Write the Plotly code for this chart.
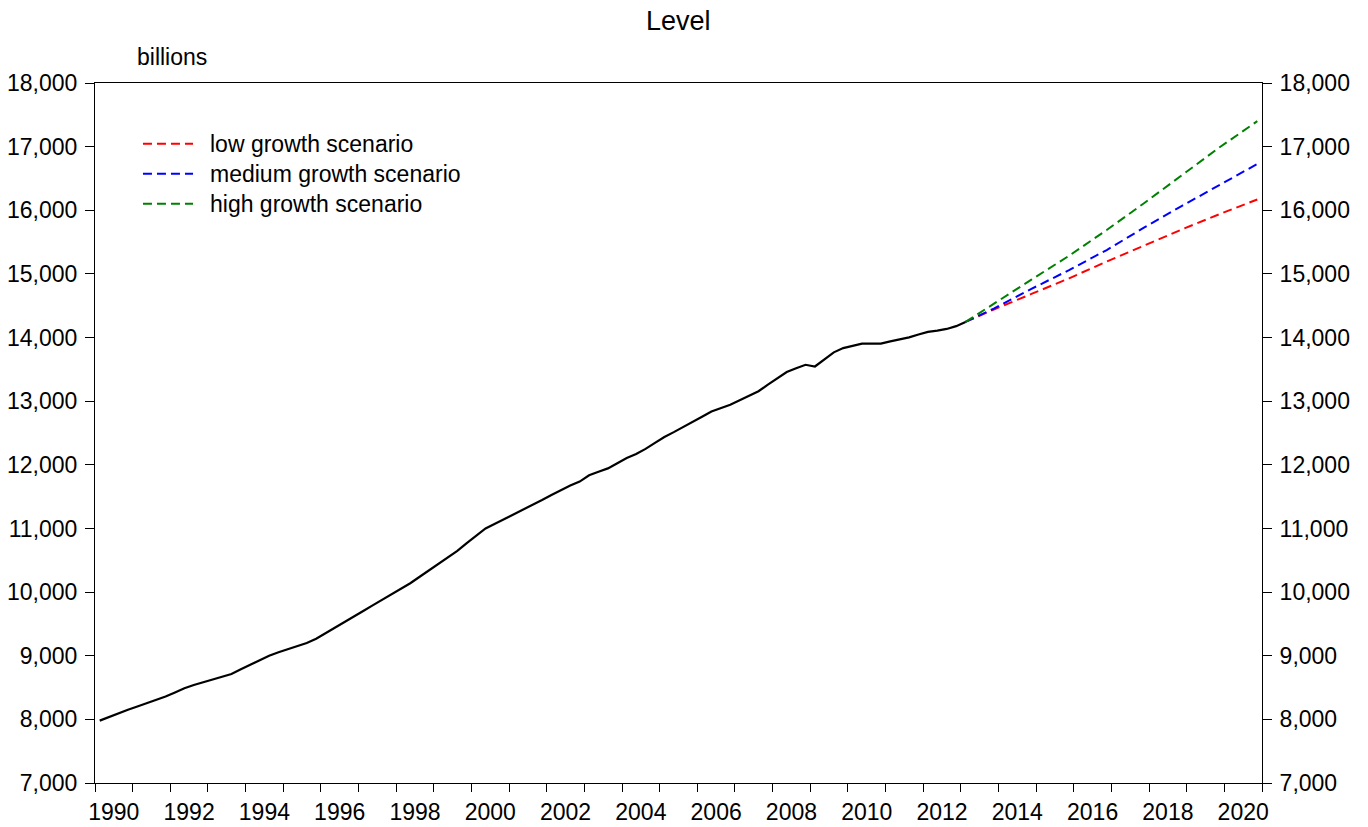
import plotly.graph_objects as go

# actual series, quarterly 1990Q1 .. 2013Q1 (billions)
actual_start_year = 1990
actual = [7980, 8040, 8100, 8151, 8201, 8251, 8300, 8358, 8423, 8488,
          8540, 8583, 8621, 8665, 8713, 8789, 8862, 8936, 9000, 9054,
          9100, 9150, 9200, 9267, 9352, 9446, 9533, 9618, 9703, 9791,
          9880, 9964, 10048, 10139, 10241, 10342, 10443, 10544, 10647, 10769,
          10888, 11001, 11074, 11146, 11220, 11293, 11368, 11447, 11526, 11603,
          11674, 11737, 11835, 11890, 11944, 12025, 12106, 12169, 12250, 12345,
          12438, 12514, 12590, 12669, 12755, 12837, 12892, 12945, 13014, 13082,
          13156, 13260, 13360, 13457, 13516, 13572, 13545, 13655, 13767, 13834,
          13873, 13904, 13904, 13904, 13940, 13970, 14003, 14047, 14090, 14110,
          14135, 14179, 14245]

# scenario paths
forecast_periods = ["2013Q1", "2013Q4", "2014Q4", "2015Q4", "2016Q4",
                    "2017Q4", "2018Q4", "2019Q4", "2020Q4"]
low_growth = [14245, 14440, 14685, 14930, 15195, 15450, 15700, 15940, 16170]
medium_growth = [14245, 14455, 14765, 15060, 15375, 15730, 16070, 16395, 16727]
high_growth = [14245, 14535, 14910, 15285, 15690, 16115, 16550, 16990, 17400]

y_ticks = list(range(7000, 18001, 1000))
year_ticks = list(range(1990, 2022))
label_years = list(range(1990, 2021, 2))


def quarter_pos(label):
    # centre of the quarter on a decimal-year axis
    year, q = label.split("Q")
    return int(year) + (int(q) - 0.5) / 4


actual_x = [quarter_pos(f"{actual_start_year + i // 4}Q{i % 4 + 1}") for i in range(len(actual))]
fc_x = [quarter_pos(p) for p in forecast_periods]

FONT = "Arial, Liberation Sans, sans-serif"
DASH = "9px,5px"

fig = go.Figure()

scenarios = [
    ("low growth scenario", low_growth, "#ff0000"),
    ("medium growth scenario", medium_growth, "#0000ff"),
    ("high growth scenario", high_growth, "#008000"),
]
for name, vals, col in scenarios:
    fig.add_trace(go.Scatter(x=fc_x, y=vals, mode="lines", name=name,
                             line=dict(color=col, width=2, dash=DASH)))

fig.add_trace(go.Scatter(x=actual_x, y=actual, mode="lines", name="actual",
                         line=dict(color="black", width=2.2)))

# invisible copy so the right-hand axis is drawn
fig.add_trace(go.Scatter(x=actual_x, y=actual, mode="lines", yaxis="y2",
                         line=dict(color="rgba(0,0,0,0)"), hoverinfo="skip"))

# hand-made legend (long line samples, like the original)
legend_rows = [0.9133, 0.8704, 0.8276]
for (name, vals, col), yy in zip(scenarios, legend_rows):
    fig.add_shape(type="line", xref="paper", yref="paper",
                  x0=0.0411, x1=0.0840, y0=yy, y1=yy,
                  line=dict(color=col, width=2, dash=DASH))
    fig.add_annotation(x=0.0968, y=yy, xref="paper", yref="paper",
                       text=name, showarrow=False, xanchor="left",
                       yanchor="middle", font=dict(size=23, color="black"))

fig.add_annotation(x=0.5, y=1.089, xref="paper", yref="paper", text="Level",
                   showarrow=False, xanchor="center", yanchor="middle",
                   font=dict(size=27, color="black"))
fig.add_annotation(x=0.0343, y=1.0376, xref="paper", yref="paper", text="billions",
                   showarrow=False, xanchor="left", yanchor="middle",
                   font=dict(size=23, color="black"))

yaxis_common = dict(
    range=[7000, 18000], tickvals=y_ticks, tickformat=",d",
    ticks="outside", ticklen=9, tickcolor="black", tickwidth=1,
    ticklabelstandoff=3,
    showline=True, linecolor="black", linewidth=1,
    showgrid=False, zeroline=False, automargin=False,
    tickfont=dict(size=23, color="black"),
)

fig.update_layout(
    width=1368, height=827,
    margin=dict(l=95, r=106, t=83, b=44),
    paper_bgcolor="white", plot_bgcolor="white",
    font=dict(family=FONT, color="black"),
    showlegend=False,
    xaxis=dict(
        range=[1990, 2021],
        tickvals=[y + 0.5 for y in label_years],
        ticktext=[str(y) for y in label_years],
        ticks="outside", ticklen=8, tickcolor="rgba(0,0,0,0)",
        minor=dict(tickvals=year_ticks, ticks="outside", ticklen=8,
                   tickcolor="black", tickwidth=1, showgrid=False),
        showline=True, linecolor="black", linewidth=1, mirror=True,
        showgrid=False, zeroline=False, automargin=False,
        tickfont=dict(size=23, color="black"),
    ),
    yaxis=dict(**yaxis_common),
    yaxis2=dict(overlaying="y", side="right", anchor="x", **yaxis_common),
)

# the page's default body margin would shift the figure by 8px
fig.write_html("out.html",
               config={"displayModeBar": False},
               post_script="document.body.style.margin='0';document.body.style.overflow='hidden';")
